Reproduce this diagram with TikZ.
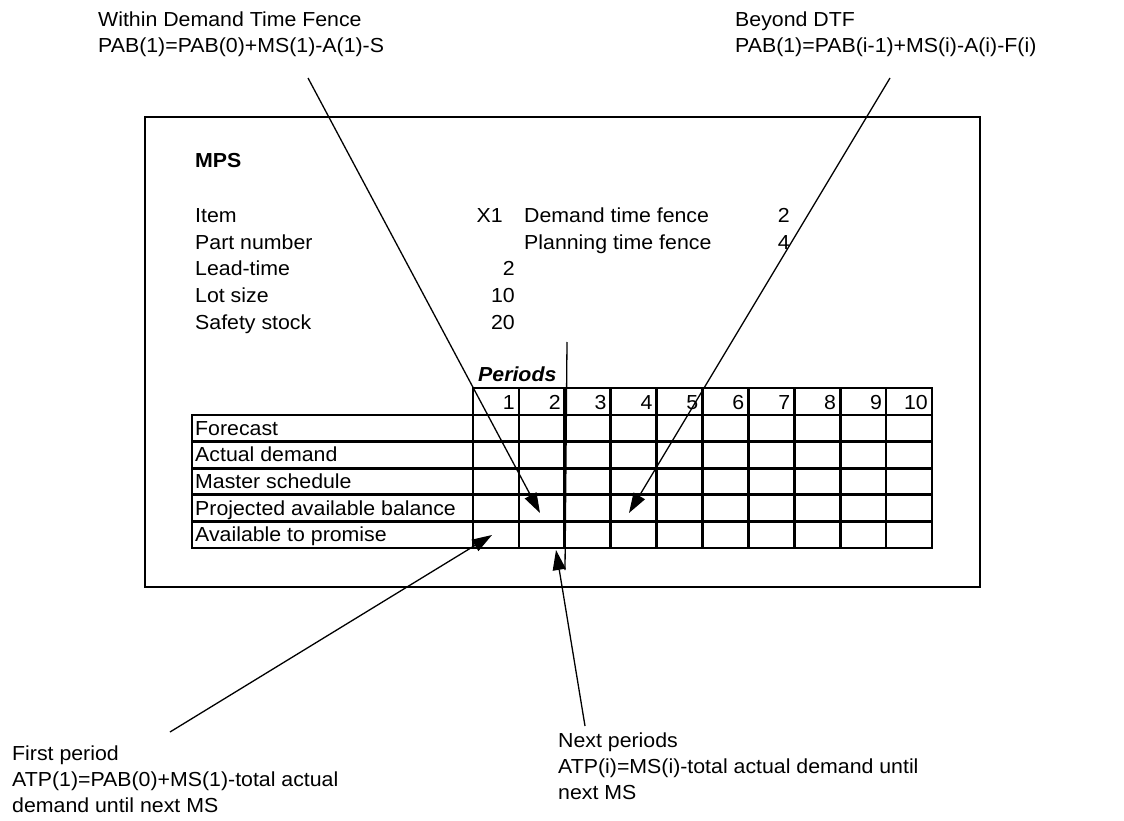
\documentclass[tikz,border=0pt]{standalone}
\usepackage{fontspec}
\setmainfont[FakeStretch=1.05]{Liberation Sans}
\usetikzlibrary{arrows.meta}
\begin{document}
\begin{tikzpicture}[x=1pt,y=-1pt,
  txt/.style={font=\fontsize{20.3}{24}\selectfont, inner sep=0pt, anchor=base west},
  txtr/.style={font=\fontsize{20.3}{24}\selectfont, inner sep=0pt, anchor=base east},
  grid/.style={line width=2.7pt, line cap=rect},
  frame/.style={line width=1.8pt},
  arr/.style={line width=1.3pt, -{Triangle[length=20pt,width=13pt]}},
  plain/.style={line width=1.3pt}]
\useasboundingbox (0,0) rectangle (1124,821);
% outer frame
\draw[frame] (145,117) rectangle (980,587);
% header block text
\node[txt, font=\fontsize{20.3}{24}\selectfont\bfseries] (mps) at (195,167.3) {MPS};
\node[txt] (item) at (195,222.7) {Item};
\node[txt] (part) at (195,249.3) {Part number};
\node[txt] (lead) at (195,275.9) {Lead-time};
\node[txt] (lot) at (195,302.5) {Lot size};
\node[txt] (ss) at (195,329.1) {Safety stock};
\node[txtr] (itemv) at (503,222.7) {X1};
\node[txtr] (leadv) at (515,275.9) {2};
\node[txtr] (lotv) at (515,302.5) {10};
\node[txtr] (ssv) at (515,329.1) {20};
\node[txt] (dtf) at (524,222.7) {Demand time fence};
\node[txt] (ptf) at (524,249.3) {Planning time fence};
\node[txtr] (dtfv) at (790,222.7) {2};
\node[txtr] (ptfv) at (790,249.3) {4};
\node[txt, font=\fontsize{20.3}{24}\selectfont\bfseries\itshape] (periods) at (478,381.7) {Periods};
% table grid
\foreach \k in {0,...,5} {
  \draw[grid] (192,415+26.6*\k) -- (932,415+26.6*\k);
}
\draw[grid] (473,388) -- (932,388);
\draw[grid] (192,415) -- (192,548);
\foreach \i in {0,...,10} {
  \draw[grid] (473+45.9*\i,388) -- (473+45.9*\i,548);
}
\foreach \i in {1,...,10} {
  \node[txtr] (h\i) at (473+45.9*\i-4,409.3) {\i};
}
\foreach \t [count=\k from 0] in {Forecast,Actual demand,Master schedule,Projected available balance,Available to promise} {
  \node[txt] (r\k) at (195,415+26.6*\k+20.3) {\t};
}
% annotations
\node[txt] (w1) at (98,27) {Within Demand Time Fence};
\node[txt] (w2) at (98,53) {PAB(1)=PAB(0)+MS(1)-A(1)-S};
\node[txt] (b1) at (735,27) {Beyond DTF};
\node[txt] (b2) at (735,53) {PAB(1)=PAB(i-1)+MS(i)-A(i)-F(i)};
\node[txt] (f1) at (12,760) {First period};
\node[txt] (f2) at (12,786) {ATP(1)=PAB(0)+MS(1)-total actual};
\node[txt] (f3) at (12,812) {demand until next MS};
\node[txt] (n1) at (558,747) {Next periods};
\node[txt] (n2) at (558,773) {ATP(i)=MS(i)-total actual demand until};
\node[txt] (n3) at (558,799) {next MS};
% connectors
\coordinate (ws) at (308,78);
\coordinate (wt) at (540,513);
\coordinate (bs) at (890,78);
\coordinate (bt) at (629,513);
\coordinate (fs) at (170,732);
\coordinate (ft) at (492,535);
\coordinate (ns) at (585,726);
\coordinate (nt) at (556,550);
\coordinate (vs) at (567,342);
\coordinate (ve) at (565,570);
\draw[arr] (ws) -- (wt);
\draw[arr] (bs) -- (bt);
\draw[arr] (fs) -- (ft);
\draw[arr] (ns) -- (nt);
\draw[plain] (vs) -- (ve);
\end{tikzpicture}
\end{document}
